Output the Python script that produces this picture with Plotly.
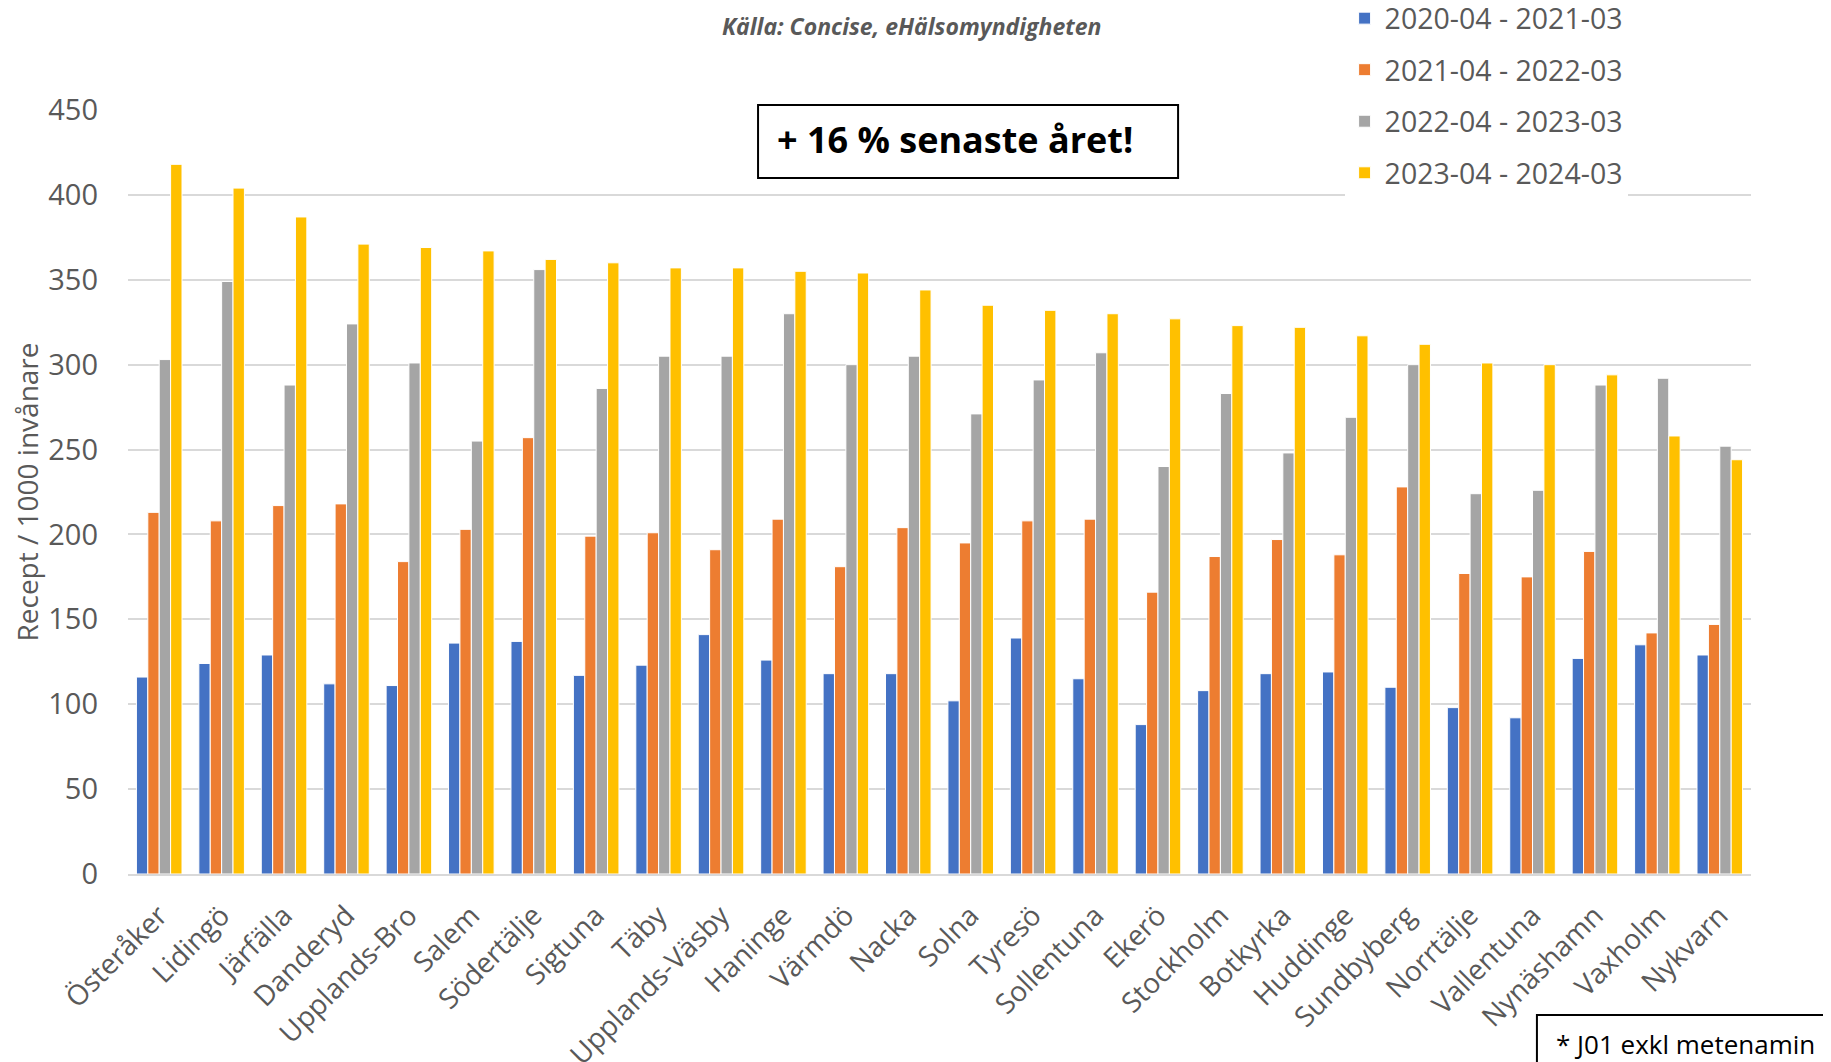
import plotly.graph_objects as go

kommuner = ["Österåker", "Lidingö", "Järfälla", "Danderyd", "Upplands-Bro", "Salem",
            "Södertälje", "Sigtuna", "Täby", "Upplands-Väsby", "Haninge", "Värmdö",
            "Nacka", "Solna", "Tyresö", "Sollentuna", "Ekerö", "Stockholm", "Botkyrka",
            "Huddinge", "Sundbyberg", "Norrtälje", "Vallentuna", "Nynäshamn", "Vaxholm",
            "Nykvarn"]

period_2020 = [116, 124, 129, 112, 111, 136, 137, 117, 123, 141, 126, 118, 118, 102,
               139, 115, 88, 108, 118, 119, 110, 98, 92, 127, 135, 129]
period_2021 = [213, 208, 217, 218, 184, 203, 257, 199, 201, 191, 209, 181, 204, 195,
               208, 209, 166, 187, 197, 188, 228, 177, 175, 190, 142, 147]
period_2022 = [303, 349, 288, 324, 301, 255, 356, 286, 305, 305, 330, 300, 305, 271,
               291, 307, 240, 283, 248, 269, 300, 224, 226, 288, 292, 252]
period_2023 = [418, 404, 387, 371, 369, 367, 362, 360, 357, 357, 355, 354, 344, 335,
               332, 330, 327, 323, 322, 317, 312, 301, 300, 294, 258, 244]

series_names = ["2020-04 - 2021-03", "2021-04 - 2022-03", "2022-04 - 2023-03", "2023-04 - 2024-03"]
series_values = [period_2020, period_2021, period_2022, period_2023]
series_colors = ["#4472C4", "#ED7D31", "#A5A5A5", "#FFC000"]

y_ticks = [0, 50, 100, 150, 200, 250, 300, 350, 400, 450]

FONT = "Open Sans"
GREY_TEXT = "#595959"

fig = go.Figure()
for name, vals, col in zip(series_names, series_values, series_colors):
    fig.add_trace(go.Bar(
        x=kommuner, y=vals, name=name, legendgroup=name,
        marker=dict(color=col, line=dict(color="white", width=1)),
    ))

# page body has an 8px margin, so the figure is 8px smaller than the window
fig.update_layout(
    width=1823, height=1054,
    paper_bgcolor="white", plot_bgcolor="white",
    margin=dict(l=120, r=80, t=102, b=188, autoexpand=False),
    barmode="group", bargap=0.27, bargroupgap=0,
    font=dict(family=FONT, color=GREY_TEXT),
    showlegend=True,
    legend=dict(
        xref="paper", yref="paper",
        x=0.7496, xanchor="left", y=1.153, yanchor="top",
        bgcolor="white", borderwidth=0,
        font=dict(family=FONT, size=28.5, color=GREY_TEXT),
        tracegroupgap=11.5, traceorder="grouped",
    ),
    xaxis=dict(
        tickangle=-45, tickfont=dict(family=FONT, size=28, color=GREY_TEXT),
        showgrid=False, showline=True, linecolor="#d9d9d9", linewidth=2,
        ticks="", ticklabelstandoff=12,
    ),
    yaxis=dict(
        range=[0, 450], tickvals=y_ticks,
        tickfont=dict(family=FONT, size=29, color=GREY_TEXT),
        showgrid=True, gridcolor="#d9d9d9", gridwidth=2,
        zeroline=False, showline=False, ticks="", ticklabelstandoff=29,
        title=dict(text="Recept / 1000 invånare",
                   font=dict(family=FONT, size=28, color=GREY_TEXT), standoff=26),
    ),
)

fig.add_annotation(
    text="<b><i>Källa: Concise, eHälsomyndigheten</i></b>",
    xref="paper", yref="paper", x=0.483, y=1.110, xanchor="center", yanchor="middle",
    showarrow=False, font=dict(family=FONT, size=23, color=GREY_TEXT),
)

fig.add_shape(
    type="rect", xref="paper", yref="paper",
    x0=0.3882, x1=0.6470, y0=0.9110, y1=1.0065,
    line=dict(color="black", width=2), fillcolor="white", layer="above",
)
fig.add_annotation(
    text="<b>+ 16 % senaste året!</b>",
    xref="paper", yref="paper", x=0.3985, y=0.961, xanchor="left", yanchor="middle",
    showarrow=False, font=dict(family=FONT, size=36, color="black"),
)

fig.add_shape(
    type="rect", xref="paper", yref="paper",
    x0=0.8681, x1=1.06, y0=-0.30, y1=-0.1846,
    line=dict(color="black", width=2), fillcolor="white", layer="above",
)
fig.add_annotation(
    text="* J01 exkl metenamin",
    xref="paper", yref="paper", x=0.9595, y=-0.223, xanchor="center", yanchor="middle",
    showarrow=False, font=dict(family=FONT, size=26, color="black"),
)

fig.write_html("out.html")
